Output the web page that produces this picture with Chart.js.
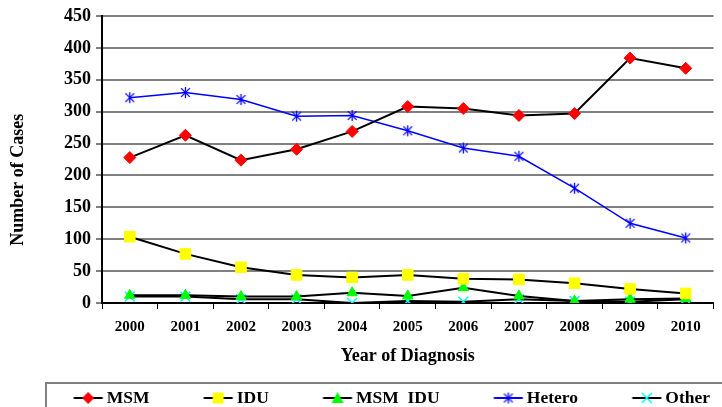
<!DOCTYPE html>
<html>
<head>
<meta charset="utf-8">
<script src="https://cdn.jsdelivr.net/npm/chart.js@4.4.0/dist/chart.umd.min.js"></script>
<style>
  html, body { margin: 0; padding: 0; background: #fff; }
</style>
</head>
<body>
<canvas id="myChart" width="722" height="407"></canvas>
<script>
const years = ['2000', '2001', '2002', '2003', '2004', '2005', '2006', '2007', '2008', '2009', '2010'];
const msm    = [228, 263, 224, 241, 269, 308, 305, 294, 297, 384, 368];
const idu    = [104, 77, 56, 44, 40, 44, 38, 37, 31, 22, 15];
const msmIdu = [12, 12, 10, 10, 16, 11, 24, 11, 3, 6, 7];
const hetero = [322, 330, 319, 293, 294, 270, 243, 230, 180, 125, 102];
const other  = [10, 10, 6, 6, 0, 3, 2, 6, 3, 2, 6];
const yTicks = [0, 50, 100, 150, 200, 250, 300, 350, 400, 450];

Chart.defaults.font.family = "'Liberation Serif', 'Times New Roman', serif";
Chart.defaults.color = '#000';

// excel style asterisk marker: x plus vertical bar
function starMarker(size, color) {
  const c = document.createElement('canvas');
  c.width = size; c.height = size;
  const g = c.getContext('2d');
  g.strokeStyle = color;
  g.lineWidth = 1.3;
  const m = size / 2, r = size / 2 - 1;
  g.beginPath();
  g.moveTo(m, m - r); g.lineTo(m, m + r);
  g.moveTo(m - r * 0.8, m - r * 0.8); g.lineTo(m + r * 0.8, m + r * 0.8);
  g.moveTo(m + r * 0.8, m - r * 0.8); g.lineTo(m - r * 0.8, m + r * 0.8);
  g.stroke();
  return c;
}

// legend icon: short line with the marker in the middle
function legendIcon(lineColor, marker) {
  const c = document.createElement('canvas');
  c.width = 76; c.height = 20;
  const g = c.getContext('2d');
  g.strokeStyle = lineColor;
  g.lineWidth = 2;
  g.beginPath();
  g.moveTo(45.5, 10); g.lineTo(74.5, 10);
  g.stroke();
  marker(g, 60, 10);
  return c;
}

const heteroStar = starMarker(13, '#0000ff');

const icons = [
  legendIcon('#000', (g, x, y) => {
    g.fillStyle = '#ff0000';
    g.beginPath(); g.moveTo(x, y - 6); g.lineTo(x + 6, y); g.lineTo(x, y + 6); g.lineTo(x - 6, y); g.closePath(); g.fill();
  }),
  legendIcon('#000', (g, x, y) => {
    g.fillStyle = '#ffff00';
    g.fillRect(x - 5.5, y - 5.5, 11, 11);
  }),
  legendIcon('#000', (g, x, y) => {
    g.fillStyle = '#00ff00';
    g.beginPath(); g.moveTo(x, y - 6); g.lineTo(x + 6, y + 5); g.lineTo(x - 6, y + 5); g.closePath(); g.fill();
  }),
  legendIcon('#0000ff', (g, x, y) => {
    g.drawImage(heteroStar, x - 6.5, y - 6.5);
  }),
  legendIcon('#000', (g, x, y) => {
    g.strokeStyle = '#00ffff'; g.lineWidth = 1.5;
    g.beginPath();
    g.moveTo(x - 5, y - 5); g.lineTo(x + 5, y + 5);
    g.moveTo(x + 5, y - 5); g.lineTo(x - 5, y + 5);
    g.stroke();
  })
];

const legendFrame = {
  id: 'legendFrame',
  afterDraw(chart) {
    const ctx = chart.ctx;
    ctx.save();
    ctx.strokeStyle = '#808080';
    ctx.lineWidth = 2;
    ctx.strokeRect(46, 383, 700, 40);
    ctx.restore();
  }
};

const data = {
  labels: years,
  datasets: [
    { label: 'MSM', data: msm, borderColor: '#000', borderWidth: 2,
      pointStyle: 'rectRot', pointRadius: 6, pointBackgroundColor: '#ff0000', pointBorderColor: '#ff0000', pointBorderWidth: 1 },
    { label: 'IDU', data: idu, borderColor: '#000', borderWidth: 2,
      pointStyle: 'rect', pointRadius: 7.5, pointBackgroundColor: '#ffff00', pointBorderColor: '#ffff00', pointBorderWidth: 1 },
    { label: 'MSM  IDU', data: msmIdu, borderColor: '#000', borderWidth: 2,
      pointStyle: 'triangle', pointRadius: 6, pointBackgroundColor: '#00ff00', pointBorderColor: '#00ff00', pointBorderWidth: 1 },
    { label: 'Hetero', data: hetero, borderColor: '#0000ff', borderWidth: 1.5,
      pointStyle: heteroStar, pointRadius: 6 },
    { label: 'Other', data: other, borderColor: '#000', borderWidth: 2,
      pointStyle: 'crossRot', pointRadius: 7, pointBorderColor: '#00ffff', pointBackgroundColor: '#00ffff', pointBorderWidth: 1.5 }
  ]
};

const config = {
  type: 'line',
  data: data,
  plugins: [legendFrame],
  options: {
    responsive: false,
    animation: false,
    layout: { padding: { top: 16, right: -3, left: 0, bottom: -9.75 } },
    plugins: {
      tooltip: { enabled: false },
      legend: {
        position: 'bottom',
        align: 'end',
        labels: {
          usePointStyle: true,
          pointStyleWidth: 63.5,
          padding: 15,
          color: '#000',
          font: { size: 17.5, weight: 'bold' },
          generateLabels: chart => chart.data.datasets.map((ds, i) => ({
            text: ds.label, pointStyle: icons[i], datasetIndex: i, hidden: false, lineWidth: 0
          }))
        }
      }
    },
    scales: {
      x: {
        offset: true,
        afterFit: s => { s.height = 71.25; },
        grid: { display: true, offset: true, drawOnChartArea: false, tickLength: 6, color: '#000', lineWidth: 1 },
        border: { color: '#000', width: 2 },
        ticks: { padding: 9, font: { size: 15, weight: 'bold' }, color: '#000' },
        title: { display: true, text: 'Year of Diagnosis', font: { size: 18, weight: 'bold' }, padding: { top: 0, bottom: 7.5 }, color: '#000' }
      },
      y: {
        min: yTicks[0],
        max: yTicks[yTicks.length - 1],
        afterFit: s => { s.width = 102; },
        afterBuildTicks: s => { s.ticks = yTicks.map(v => ({ value: v })); },
        grid: { color: '#808080', lineWidth: 2, tickLength: 6, tickColor: '#000', tickWidth: 1 },
        border: { color: '#000', width: 2 },
        ticks: { padding: 5, font: { size: 18, weight: 'bold' }, color: '#000' },
        title: { display: true, text: 'Number of Cases         ', font: { size: 18, weight: 'bold' }, padding: { top: 7.2, bottom: 0 }, color: '#000' }
      }
    }
  }
};

const myChart = new Chart(document.getElementById('myChart'), config);
</script>
</body>
</html>
